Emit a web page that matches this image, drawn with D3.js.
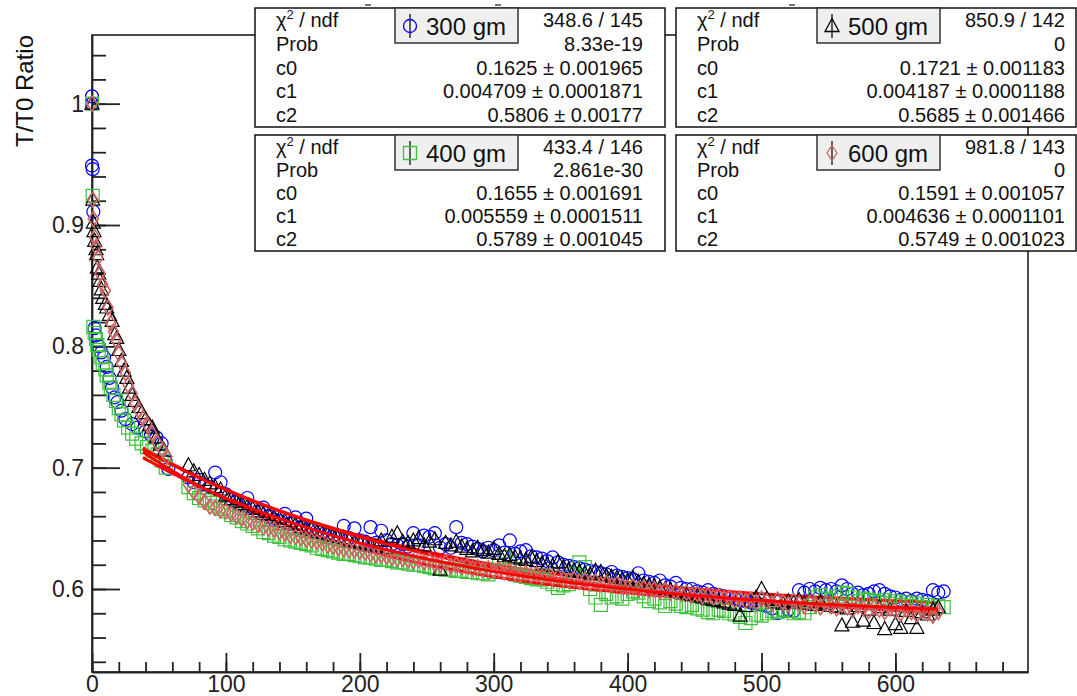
<!DOCTYPE html>
<html>
<head>
<meta charset="utf-8">
<script src="https://d3js.org/d3.v7.min.js"></script>
<style>
body { margin: 0; background: #fff; }
svg { display: block; font-family: "Liberation Sans", Arial, Helvetica, sans-serif; }
</style>
</head>
<body>
<div id="container"><svg></svg></div>
<script>
let width = 1077, height = 696;
let lmargin = 92, rmargin = 1028, umargin = 35, dmargin = 672;

let series_names = ['300 gm', '400 gm', '500 gm', '600 gm'];
let series_colors = ['#0000ff', '#3cc23c', '#000000', '#cc6666'];
let series_markers = ['circle', 'square', 'triangle', 'diamond'];

// fit results shown in the stat boxes: c0*exp(-c1*x)+c2
let fit_c0 = [0.1625, 0.1655, 0.1721, 0.1591];
let fit_c1 = [0.004709, 0.005559, 0.004187, 0.004636];
let fit_c2 = [0.5806, 0.5789, 0.5685, 0.5749];
let fit_range = [38, 632];

let stat_labels = ['χ2 / ndf', 'Prob', 'c0', 'c1', 'c2'];
let stat_values = [
    ['348.6 / 145', '8.33e-19', '0.1625 ± 0.001965', '0.004709 ± 0.0001871', '0.5806 ± 0.00177'],
    ['433.4 / 146', '2.861e-30', '0.1655 ± 0.001691', '0.005559 ± 0.0001511', '0.5789 ± 0.001045'],
    ['850.9 / 142', '0', '0.1721 ± 0.001183', '0.004187 ± 0.0001188', '0.5685 ± 0.001466'],
    ['981.8 / 143', '0', '0.1591 ± 0.001057', '0.004636 ± 0.0001101', '0.5749 ± 0.001023']
];

let x_ticks = [0, 100, 200, 300, 400, 500, 600];
let y_ticks = [0.6, 0.7, 0.8, 0.9, 1.0];

// first minutes, [x, ratio]
let early_300 = [[0,1.006],[0,1.0],[0,0.949],[0.5,0.946],[1,0.911],[2,0.815],[3,0.809],[5,0.800],[7,0.795],[9,0.791],[11,0.783],[13,0.774],[15,0.766],[17,0.758],[19,0.754],[22,0.747],[25,0.740],[30,0.736],[34,0.733],[40,0.730],[44,0.727],[48,0.725],[52,0.720],[55,0.705],[57,0.699]];
let early_400 = [[0,1.0],[0.5,0.924],[1,0.816],[2,0.811],[3,0.806],[4,0.801],[5,0.797],[7,0.791],[8,0.786],[10,0.781],[11,0.776],[13,0.770],[14,0.766],[16,0.760],[18,0.755],[20,0.749],[22,0.744],[24,0.739],[27,0.733],[30,0.728],[33,0.724],[37,0.720],[41,0.717],[45,0.714],[49,0.711],[52,0.706],[55,0.700]];
let early_500 = [[0,1.0],[0.5,0.921],[1,0.902],[1.5,0.895],[2,0.887],[3,0.880],[3.5,0.876],[4,0.865],[5,0.860],[6,0.854],[7,0.847],[8,0.840],[10,0.835],[11,0.832],[13,0.826],[15,0.821],[17,0.810],[18.5,0.807],[20,0.797],[22,0.788],[24,0.780],[26,0.774],[28,0.766],[30,0.760],[32,0.755],[35,0.750],[37,0.745],[40,0.740],[43,0.735],[45,0.733],[48,0.725],[51,0.719],[54,0.714]];
let early_600 = [[0,1.0],[0.5,0.921],[1,0.905],[2,0.890],[3,0.882],[4.5,0.873],[6,0.860],[8,0.851],[10,0.846],[12,0.832],[14,0.819],[16,0.812],[18,0.805],[20,0.794],[22,0.786],[25,0.778],[27,0.768],[30,0.761],[32,0.753],[35,0.747],[38,0.741],[41,0.736],[45,0.728],[49,0.720],[53,0.714],[56,0.709]];

// later readings share the same times
let times = [72,76,80,84,88,92,96,100,104,108,112,116,120,124,128,132,136,140,144,148,
    152,156,160,164,168,172,176,180,184,188,192,196,200,204,208,212,216,220,224,228,
    232,236,240,244,248,252,256,260,264,268,272,276,280,284,288,292,296,300,304,308,
    312,316,320,324,328,332,336,340,344,348,352,356,360,364,368,372,376,380,384,388,
    392,396,400,404,408,412,416,420,424,428,432,436,440,444,448,452,456,460,464,468,
    472,476,480,484,488,492,496,500,504,508,512,516,520,524,528,532,536,540,544,548,
    552,556,560,564,568,572,576,580,584,588,592,596,600,604,608,612,616,620,624,628,
    632,636];

let late_300 = [.692,.688,.690,.686,.684,.696,.688,.678,.674,.672,.670,.675,.667,.664,.667,.660,.657,.656,.662,.654,
    .659,.651,.658,.649,.648,.647,.645,.644,.643,.652,.642,.650,.640,.639,.651,.638,.648,.640,.637,.636,
    .637,.635,.646,.636,.644,.643,.646,.634,.637,.634,.651,.638,.637,.635,.633,.631,.634,.632,.636,.630,
    .640,.629,.631,.632,.627,.626,.625,.623,.626,.622,.620,.619,.618,.617,.616,.615,.614,.613,.612,.614,
    .611,.610,.609,.608,.613,.607,.606,.605,.607,.603,.602,.605,.601,.600,.600,.598,.597,.599,.596,.595,
    .594,.593,.592,.591,.590,.589,.588,.587,.586,.584,.580,.582,.583,.582,.599,.597,.600,.598,.601,.599,
    .600,.598,.603,.600,.596,.597,.595,.596,.598,.599,.596,.594,.593,.591,.592,.590,.592,.591,.590,.599,
    .597,.598];
let late_400 = [.684,.679,.675,.673,.671,.668,.666,.664,.661,.659,.656,.654,.652,.650,.647,.646,.644,.643,.641,.640,
    .639,.638,.637,.636,.634,.633,.632,.631,.630,.629,.629,.628,.627,.626,.626,.625,.624,.624,.623,.622,
    .622,.621,.620,.620,.619,.618,.617,.617,.616,.616,.615,.615,.614,.614,.613,.613,.612,.614,.619,.626,
    .621,.612,.611,.610,.609,.608,.608,.606,.604,.601,.603,.604,.612,.622,.618,.600,.593,.587,.596,.593,
    .594,.592,.596,.598,.597,.594,.590,.592,.589,.586,.590,.588,.586,.585,.587,.584,.583,.581,.580,.583,
    .582,.580,.579,.577,.572,.576,.579,.578,.580,.582,.581,.583,.582,.580,.581,.580,.585,.593,.595,.592,
    .591,.594,.597,.596,.593,.590,.592,.591,.590,.589,.591,.588,.590,.587,.589,.586,.588,.585,.587,.584,
    .586,.585];
let late_500 = [.702,.697,.694,.690,.687,.684,.682,.677,.674,.672,.670,.668,.666,.664,.662,.661,.659,.658,.656,.654,
    .653,.651,.650,.649,.647,.646,.645,.644,.643,.642,.640,.639,.638,.637,.636,.635,.640,.634,.643,.646,
    .639,.638,.640,.642,.636,.639,.641,.616,.638,.636,.639,.635,.633,.631,.634,.632,.630,.633,.629,.627,
    .628,.626,.625,.624,.626,.623,.621,.620,.619,.622,.618,.616,.615,.614,.613,.612,.615,.614,.611,.610,
    .609,.608,.607,.609,.606,.604,.603,.602,.601,.600,.599,.598,.597,.596,.595,.594,.593,.592,.591,.590,
    .589,.588,.587,.578,.586,.590,.593,.600,.592,.589,.591,.588,.590,.589,.591,.588,.590,.587,.589,.588,
    .586,.585,.570,.584,.573,.586,.574,.583,.572,.585,.567,.583,.571,.568,.582,.576,.568,.581,.579,.583,
    .585];
let late_600 = [.686,.680,.676,.672,.668,.667,.665,.664,.662,.660,.658,.656,.655,.653,.651,.650,.649,.647,.646,.644,
    .643,.642,.641,.640,.639,.638,.636,.635,.634,.633,.632,.632,.631,.630,.629,.628,.628,.627,.626,.625,
    .625,.624,.623,.624,.622,.623,.621,.620,.622,.619,.620,.618,.619,.617,.618,.616,.617,.615,.616,.614,
    .615,.613,.612,.613,.611,.612,.610,.611,.609,.610,.608,.607,.608,.606,.607,.605,.606,.604,.605,.603,
    .604,.602,.601,.602,.600,.601,.599,.600,.598,.599,.597,.598,.596,.597,.595,.596,.594,.595,.593,.594,
    .592,.593,.591,.592,.590,.591,.589,.592,.590,.588,.591,.589,.587,.590,.588,.586,.589,.587,.585,.588,
    .586,.584,.587,.585,.583,.586,.584,.582,.585,.583,.581,.584,.582,.580,.583,.581,.579,.582,.580,.578,
    .581];

let early_sets = [early_300, early_400, early_500, early_600];
let late_sets = [late_300, late_400, late_500, late_600];

function marker_path(kind) {
    if (kind == 'circle') return 'M-6.5,0A6.5,6.5 0 1,0 6.5,0A6.5,6.5 0 1,0 -6.5,0Z';
    if (kind == 'square') return 'M-6.5,-6.5H6.5V6.5H-6.5Z';
    if (kind == 'triangle') return 'M0,-7.5L7,5.5H-7Z';
    return 'M0,-7.5L5,0L0,7.5L-5,0Z';
}

function draw_graph() {
    let svg = d3.select('#container').select('svg')
        .attr('width', width)
        .attr('height', height);

    let x = d3.scaleLinear().domain([0, 699]).range([lmargin, rmargin]);
    let y = d3.scaleLinear().domain([0.5316, 1.0566]).range([dmargin, umargin]);

    // frame
    svg.append('rect')
        .attr('x', lmargin).attr('y', umargin)
        .attr('width', rmargin - lmargin).attr('height', dmargin - umargin)
        .attr('fill', 'none').attr('stroke', '#111').attr('stroke-width', 1.5);

    // x axis, ticks pointing up
    svg.append('g')
        .attr('transform', `translate(0,${dmargin})`)
        .call(d3.axisBottom(x).tickValues(d3.range(0, 700, 20)).tickSizeInner(-10).tickSizeOuter(0).tickFormat(''))
        .call(g => g.select('.domain').remove());
    let gx = svg.append('g')
        .attr('transform', `translate(0,${dmargin})`)
        .call(d3.axisBottom(x).tickValues(x_ticks).tickSizeInner(-19).tickSizeOuter(0).tickPadding(4));
    gx.selectAll('text').attr('font-size', 23).attr('fill', '#222');

    // y axis, ticks pointing right
    svg.append('g')
        .attr('transform', `translate(${lmargin},0)`)
        .call(d3.axisLeft(y).tickValues(d3.range(0.54, 1.05, 0.02)).tickSizeInner(-14).tickSizeOuter(0).tickFormat(''))
        .call(g => g.select('.domain').remove());
    let gy = svg.append('g')
        .attr('transform', `translate(${lmargin},0)`)
        .call(d3.axisLeft(y).tickValues(y_ticks).tickSizeInner(-28).tickSizeOuter(0).tickPadding(8)
            .tickFormat(d => d == 1 ? '1' : d.toFixed(1)));
    gy.selectAll('text').attr('font-size', 23).attr('fill', '#222');

    svg.selectAll('.tick line').attr('stroke', '#222').attr('stroke-width', 1.8);
    svg.selectAll('.domain').attr('stroke', '#222').attr('stroke-width', 1.8);

    svg.append('text')
        .attr('transform', 'translate(33,35) rotate(-90)')
        .attr('text-anchor', 'end')
        .attr('font-size', 24)
        .attr('fill', '#111')
        .text('T/T0 Ratio');

    // points, then each series' own fit on top
    let fit_line = d3.line().x(d => x(d[0])).y(d => y(d[1]));
    for (let s = 0; s < 4; s++) {
        let pts = early_sets[s].concat(late_sets[s].map((v, i) => [times[i], v]));
        svg.append('g')
            .selectAll('path')
            .data(pts)
            .join('path')
            .attr('d', marker_path(series_markers[s]))
            .attr('transform', d => `translate(${x(d[0])},${y(d[1])})`)
            .attr('fill', 'none')
            .attr('stroke', series_colors[s])
            .attr('stroke-width', s == 3 ? 1.6 : 1.2);

        let curve = d3.range(fit_range[0], fit_range[1] + 0.1, 2)
            .map(t => [t, fit_c0[s] * Math.exp(-fit_c1[s] * t) + fit_c2[s]]);
        svg.append('path')
            .attr('d', fit_line(curve))
            .attr('fill', 'none')
            .attr('stroke', '#ff0000')
            .attr('stroke-width', 3);
    }

    // stat boxes
    let boxes = [[255, 8, 410, 119], [255, 135, 410, 116], [676, 8, 400, 119], [676, 135, 400, 116]];
    boxes.forEach((b, s) => {
        let g = svg.append('g').attr('transform', `translate(${b[0]},${b[1]})`);
        g.append('rect')
            .attr('width', b[2]).attr('height', b[3])
            .attr('fill', '#fff').attr('stroke', '#111').attr('stroke-width', 1.5);
        let row = b[3] / 5;
        stat_labels.forEach((lab, r) => {
            let t = g.append('text')
                .attr('x', 21).attr('y', row * r + row / 2 + 7)
                .attr('font-size', 20).attr('fill', '#111');
            if (r == 0) {
                t.append('tspan').text('χ');
                t.append('tspan').attr('font-size', 13).attr('dy', -8).text('2');
                t.append('tspan').attr('dy', 8).text(' / ndf');
            } else {
                t.text(lab);
            }
            g.append('text')
                .attr('x', b[2] - (s < 2 ? 22 : 11)).attr('y', row * r + row / 2 + 7)
                .attr('text-anchor', 'end')
                .attr('font-size', 20).attr('fill', '#111')
                .text(stat_values[s][r]);
        });

        // legend label for this series
        let lx = s < 2 ? 140 : 141;
        g.append('rect')
            .attr('x', lx).attr('y', 0)
            .attr('width', 123).attr('height', 35)
            .attr('fill', '#efefef').attr('stroke', '#333').attr('stroke-width', 1.5);
        g.append('line')
            .attr('x1', lx + 15).attr('x2', lx + 15)
            .attr('y1', 6).attr('y2', 30)
            .attr('stroke', '#111').attr('stroke-width', 1.3);
        g.append('path')
            .attr('d', marker_path(series_markers[s]))
            .attr('transform', `translate(${lx + 15},18)`)
            .attr('fill', 'none')
            .attr('stroke', series_colors[s])
            .attr('stroke-width', 1.3);
        g.append('text')
            .attr('x', lx + 31).attr('y', 26.5)
            .attr('font-size', 24).attr('fill', '#111')
            .text(series_names[s]);
    });

    // small marks above the boxes
    [368, 498, 792].forEach(px => {
        svg.append('line')
            .attr('x1', px - 3).attr('x2', px + 3)
            .attr('y1', 5).attr('y2', 5)
            .attr('stroke', '#444').attr('stroke-width', 1.5);
    });
}

draw_graph();
</script>
</body>
</html>
